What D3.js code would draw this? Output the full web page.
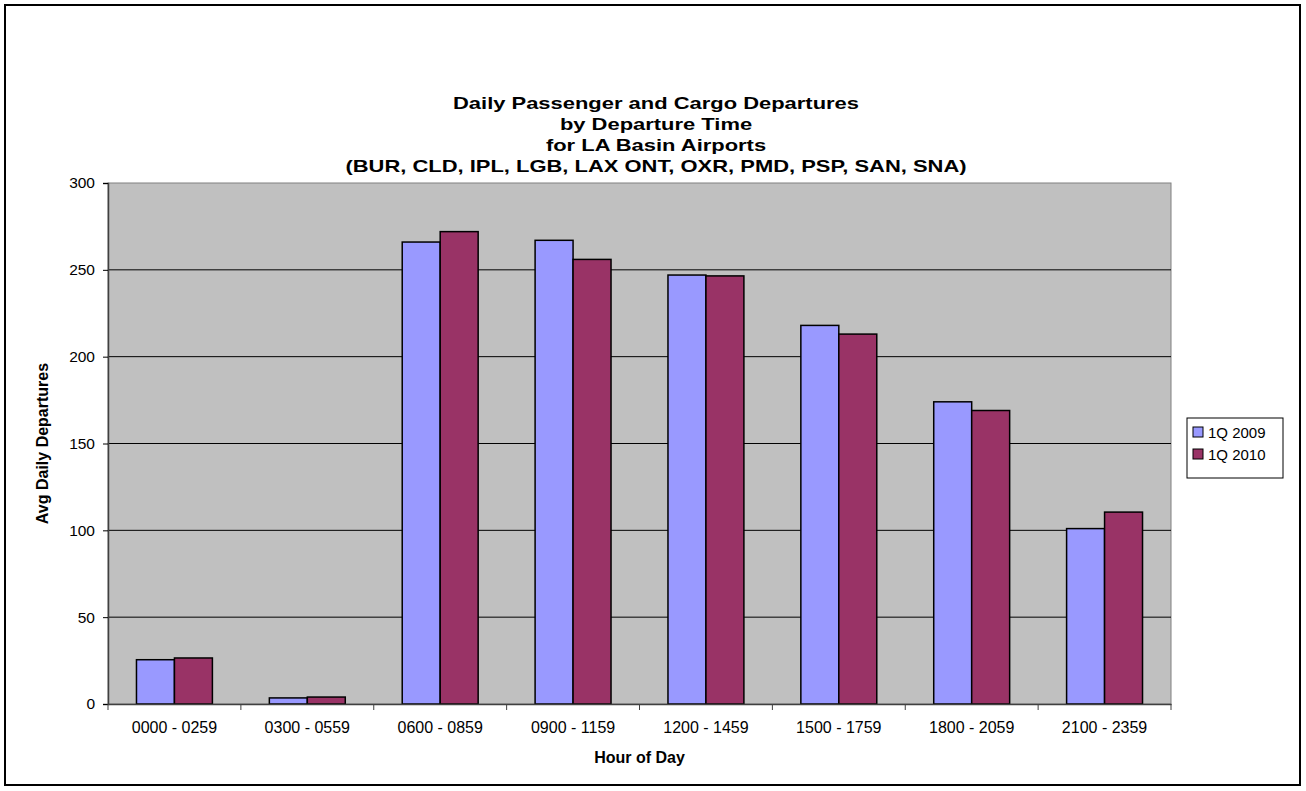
<!DOCTYPE html>
<html><head><meta charset="utf-8">
<script src="https://cdn.jsdelivr.net/npm/d3@7"></script>
<style>body{margin:0;background:#fff}svg text{font-family:Arial,"Liberation Sans",sans-serif}</style>
</head><body>
<svg id="c" width="1306" height="791"></svg>
<script>
const categories = ["0000 - 0259","0300 - 0559","0600 - 0859","0900 - 1159","1200 - 1459","1500 - 1759","1800 - 2059","2100 - 2359"];
const seriesNames = ["1Q 2009","1Q 2010"];
const values2009 = [25.5, 3.5, 266, 267, 247, 218, 174, 101];
const values2010 = [26.5, 4, 272, 256, 246.5, 213, 169, 110.5];
const yTicks = [0,50,100,150,200,250,300];
const colors = ["#9999FF","#993366"];
const titleLines = ["Daily Passenger and Cargo Departures","by Departure Time","for LA Basin Airports","(BUR, CLD, IPL, LGB, LAX ONT, OXR, PMD, PSP, SAN, SNA)"];

const svg = d3.select("#c");
svg.append("rect").attr("x",5).attr("y",5).attr("width",1295).attr("height",780)
  .attr("fill","#fff").attr("stroke","#000").attr("stroke-width",2);

const L=108, R=1171, T=183, B=704;
const x0 = d3.scaleBand().domain(categories).range([L,R]).paddingInner(0).paddingOuter(0);
const bw = x0.bandwidth();
const x1 = d3.scaleBand().domain(seriesNames).range([bw*0.75/3.5, bw - bw*0.75/3.5]).padding(0);
const y = d3.scaleLinear().domain([0,300]).range([B,T]);

svg.append("rect").attr("x",L).attr("y",T).attr("width",R-L).attr("height",B-T)
  .attr("fill","#C0C0C0").attr("stroke","#808080").attr("stroke-width",1);

const grid = svg.append("g");
grid.selectAll("line").data(yTicks.filter(d=>d>0 && d<300)).join("line")
  .attr("x1",L).attr("x2",R).attr("y1",d=>y(d)).attr("y2",d=>y(d))
  .attr("stroke","#000").attr("stroke-width",1);

const data = categories.map((c,i)=>({c, vals:[values2009[i], values2010[i]]}));
const g = svg.append("g");
data.forEach(d=>{
  d.vals.forEach((v,j)=>{
    g.append("rect").attr("x",x0(d.c)+x1(seriesNames[j])).attr("y",y(v))
      .attr("width",x1.bandwidth()).attr("height",B-y(v))
      .attr("fill",colors[j]).attr("stroke","#000").attr("stroke-width",1.5);
  });
});

const FONT = "Arial, 'Liberation Sans', sans-serif";
// Y axis
const ya = svg.append("g").attr("transform",`translate(${L},0)`)
  .call(d3.axisLeft(y).tickValues(yTicks).tickSize(5).tickPadding(8));
ya.select(".domain").attr("stroke","#404040").attr("stroke-width",1.5);
ya.selectAll(".tick line").attr("stroke","#000");
ya.selectAll("text").attr("font-size",15.5).attr("fill","#000").attr("font-family",FONT);

// X axis
const xa = svg.append("g").attr("transform",`translate(0,${B})`)
  .call(d3.axisBottom(x0).tickSize(0).tickPadding(18));
xa.select(".domain").attr("stroke","#404040").attr("stroke-width",1.5);
xa.selectAll("text").attr("font-size",16).attr("fill","#000").attr("font-family",FONT);
const bounds = categories.map(c=>x0(c)).concat([R]);
svg.append("g").selectAll("line").data(bounds).join("line")
  .attr("x1",d=>d).attr("x2",d=>d).attr("y1",B).attr("y2",B+6).attr("stroke","#404040").attr("stroke-width",1);

// titles (horizontally widened glyphs as in the reference)
const sx = 1.33, cx = 656;
svg.append("g").attr("transform",`translate(${cx},0) scale(${sx},1)`)
  .selectAll("text").data(titleLines).join("text")
  .attr("x",0).attr("y",(d,i)=>109+i*21).attr("text-anchor","middle")
  .attr("font-size",16.5).attr("font-weight","bold").text(d=>d);

svg.append("text").attr("x",(L+R)/2).attr("y",763).attr("text-anchor","middle")
  .attr("font-size",16).attr("font-weight","bold").text("Hour of Day");
svg.append("text").attr("transform",`translate(48,${(T+B)/2}) rotate(-90)`).attr("text-anchor","middle")
  .attr("font-size",16).attr("font-weight","bold").text("Avg Daily Departures");

// legend
const lg = svg.append("g");
lg.append("rect").attr("x",1187).attr("y",418).attr("width",96).attr("height",60)
  .attr("fill","#fff").attr("stroke","#000").attr("stroke-width",1);
seriesNames.forEach((s,i)=>{
  lg.append("rect").attr("x",1193).attr("y",427+i*22).attr("width",10).attr("height",10)
    .attr("fill",colors[i]).attr("stroke","#000").attr("stroke-width",1);
  lg.append("text").attr("x",1208).attr("y",438+i*22).attr("font-size",15).text(s);
});
</script>
</body></html>
